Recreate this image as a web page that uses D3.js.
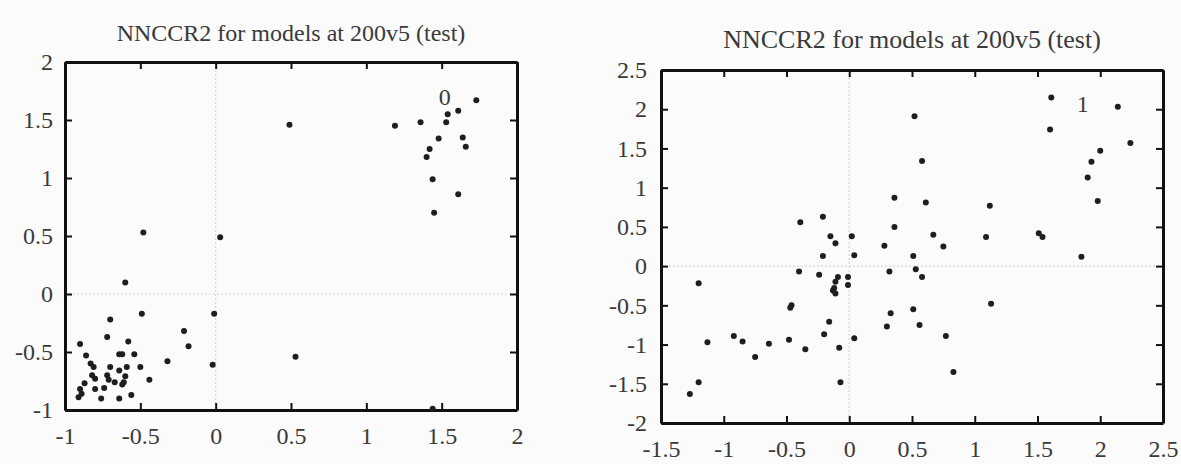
<!DOCTYPE html>
<html>
<head>
<meta charset="utf-8">
<script src="https://cdn.jsdelivr.net/npm/d3@7"></script>
<style>
  body { margin: 0; background: #fafbfa; }
  text { font-family: "Liberation Serif", "DejaVu Serif", serif; fill: #3a3a3a; }
</style>
</head>
<body>
<div id="chart"></div>
<script>
// chart values
var title = "NNCCR2 for models at 200v5 (test)";

var leftXTicks = [-1, -0.5, 0, 0.5, 1, 1.5, 2];
var leftYTicks = [-1, -0.5, 0, 0.5, 1, 1.5, 2];
var rightXTicks = [-1.5, -1, -0.5, 0, 0.5, 1, 1.5, 2, 2.5];
var rightYTicks = [-2, -1.5, -1, -0.5, 0, 0.5, 1, 1.5, 2, 2.5];

var leftLabel = {text: "0", x: 1.52, y: 1.70};
var rightLabel = {text: "1", x: 1.86, y: 2.07};

var leftPoints = [
  [0.49,1.46],[1.19,1.45],[1.36,1.48],[1.54,1.55],[1.61,1.58],[1.73,1.67],[1.53,1.48],
  [1.48,1.34],[1.64,1.35],[1.66,1.27],[1.42,1.25],[1.40,1.18],[1.44,0.99],[1.61,0.86],
  [1.45,0.70],[0.53,-0.54],[1.44,-0.99],
  [-0.48,0.53],[0.03,0.49],[-0.60,0.10],[-0.49,-0.17],[-0.01,-0.17],[-0.70,-0.22],
  [-0.21,-0.32],[-0.18,-0.45],[-0.72,-0.37],[-0.58,-0.41],[-0.90,-0.43],[-0.86,-0.53],
  [-0.64,-0.52],[-0.62,-0.52],[-0.54,-0.52],[-0.32,-0.58],[-0.02,-0.61],[-0.50,-0.63],
  [-0.59,-0.63],[-0.64,-0.66],[-0.70,-0.63],[-0.83,-0.60],[-0.81,-0.63],[-0.82,-0.70],
  [-0.80,-0.73],[-0.72,-0.70],[-0.71,-0.74],[-0.67,-0.76],[-0.60,-0.71],[-0.61,-0.76],
  [-0.44,-0.74],[-0.62,-0.78],[-0.87,-0.77],[-0.90,-0.82],[-0.89,-0.86],[-0.91,-0.89],
  [-0.80,-0.82],[-0.74,-0.81],[-0.76,-0.90],[-0.64,-0.90],[-0.56,-0.87]
];

var rightPoints = [
  [-1.20,-0.22],[-1.13,-0.97],[-1.20,-1.48],[-1.27,-1.63],[-0.92,-0.89],[-0.85,-0.96],
  [-0.75,-1.16],[-0.64,-0.99],[-0.48,-0.94],[-0.47,-0.53],[-0.46,-0.50],[-0.40,-0.07],
  [-0.35,-1.06],[-0.24,-0.11],[-0.21,0.13],[-0.20,-0.87],[-0.16,-0.71],[-0.15,0.38],
  [-0.11,0.29],[-0.08,-1.04],[-0.07,-1.48],[0.02,0.38],[0.04,0.14],[0.04,-0.92],
  [-0.09,-0.14],[-0.11,-0.20],[-0.12,-0.28],[-0.11,-0.35],[-0.01,-0.14],[-0.01,-0.24],
  [-0.13,-0.31],
  [0.28,0.26],[0.32,-0.07],[0.33,-0.60],[0.30,-0.77],[0.51,0.13],[0.53,-0.04],[0.58,-0.14],
  [0.51,-0.55],[0.56,-0.75],
  [-0.39,0.56],[-0.21,0.63],[0.36,0.87],[0.36,0.50],[0.52,1.91],[0.58,1.34],[0.61,0.81],
  [1.12,0.77],[0.67,0.40],[0.75,0.25],[1.09,0.37],
  [0.77,-0.89],[0.83,-1.35],[1.13,-0.48],[1.51,0.42],[1.54,0.37],[1.85,0.12],
  [1.61,2.15],[1.60,1.74],[2.14,2.03],[2.24,1.57],[2.00,1.47],[1.93,1.33],[1.90,1.13],[1.98,0.83]
];

var svg = d3.select("#chart")
  .append("svg")
    .attr("width", 1181)
    .attr("height", 464);

svg.append("rect")
  .attr("width", 1181)
  .attr("height", 464)
  .attr("fill", "#fafbfa");

drawPanel({left: 65, top: 62, width: 452, height: 348, titleY: 41, titleSize: 24, yPad: 12},
  leftXTicks, leftYTicks, leftPoints, leftLabel);
drawPanel({left: 661, top: 70, width: 502, height: 353, titleY: 48, titleSize: 26, yPad: 14},
  rightXTicks, rightYTicks, rightPoints, rightLabel);

function drawPanel(box, xTicks, yTicks, points, label){
  var g = svg.append("g")
    .attr("transform", "translate(" + box.left + "," + box.top + ")");

  var x = d3.scaleLinear()
    .domain([xTicks[0], xTicks[xTicks.length - 1]])
    .range([0, box.width]);
  var y = d3.scaleLinear()
    .domain([yTicks[0], yTicks[yTicks.length - 1]])
    .range([box.height, 0]);

  // faint dotted zero lines
  g.append("line")
    .attr("x1", x(0)).attr("x2", x(0))
    .attr("y1", 0).attr("y2", box.height)
    .attr("stroke", "#d4d6d4")
    .attr("stroke-width", 1.2)
    .attr("stroke-dasharray", "2,2");
  g.append("line")
    .attr("x1", 0).attr("x2", box.width)
    .attr("y1", y(0)).attr("y2", y(0))
    .attr("stroke", "#d4d6d4")
    .attr("stroke-width", 1.2)
    .attr("stroke-dasharray", "2,2");

  var fmt = function(d){ return String(d); };

  var bottom = g.append("g")
    .attr("transform", "translate(0," + box.height + ")")
    .call(d3.axisBottom(x).tickValues(xTicks).tickFormat(fmt).tickSize(-7).tickSizeOuter(0).tickPadding(17));
  var leftAx = g.append("g")
    .call(d3.axisLeft(y).tickValues(yTicks).tickFormat(fmt).tickSize(-7).tickSizeOuter(0).tickPadding(box.yPad));
  var topAx = g.append("g")
    .call(d3.axisTop(x).tickValues(xTicks).tickFormat("").tickSize(-7).tickSizeOuter(0));
  var rightAx = g.append("g")
    .attr("transform", "translate(" + box.width + ",0)")
    .call(d3.axisRight(y).tickValues(yTicks).tickFormat("").tickSize(-7).tickSizeOuter(0));

  [bottom, leftAx, topAx, rightAx].forEach(function(a){
    a.attr("font-family", "'Liberation Serif', 'DejaVu Serif', serif");
    a.select(".domain").attr("stroke", "#111").attr("stroke-width", 3);
    a.selectAll(".tick line").attr("stroke", "#111").attr("stroke-width", 2);
    a.selectAll("text")
      .attr("font-size", 24)
      .attr("fill", "#3a3a3a");
  });

  g.append("text")
    .attr("x", box.width / 2)
    .attr("y", box.titleY - box.top)
    .attr("text-anchor", "middle")
    .attr("font-size", box.titleSize)
    .text(title);

  g.append("text")
    .attr("x", x(label.x))
    .attr("y", y(label.y))
    .attr("text-anchor", "middle")
    .attr("dominant-baseline", "central")
    .attr("font-size", 24)
    .attr("fill", "#6a6a6a")
    .text(label.text);

  g.append("g")
    .selectAll("circle")
    .data(points)
    .enter()
    .append("circle")
      .attr("cx", function(d){ return x(d[0]); })
      .attr("cy", function(d){ return y(d[1]); })
      .attr("r", 3)
      .attr("fill", "#1e1e1e");
}
</script>
</body>
</html>
